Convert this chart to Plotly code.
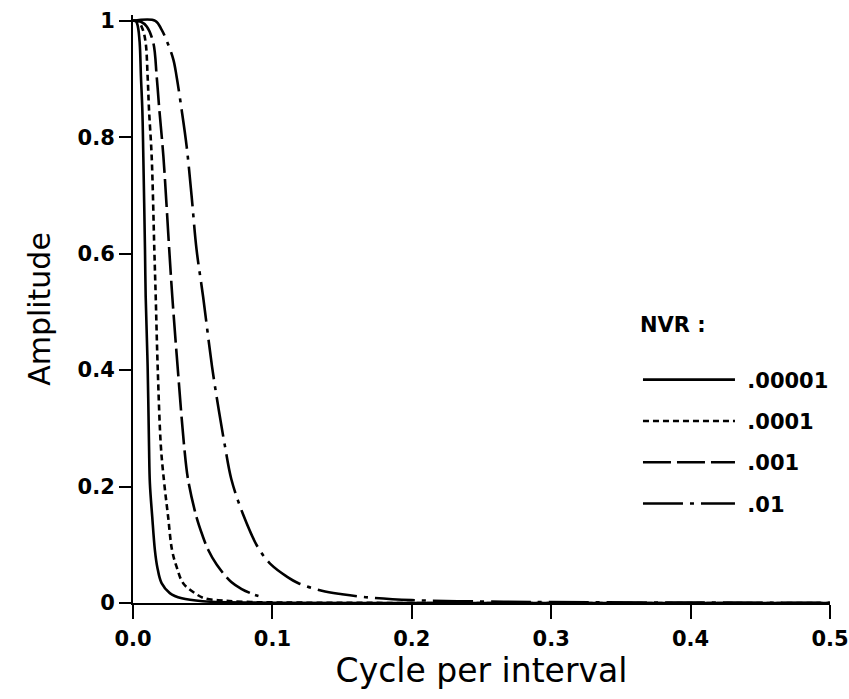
import plotly.graph_objects as go

# Frequency (cycles per interval) and amplitude
f_00001 = [0, 0.002, 0.0035, 0.0048, 0.0057, 0.0067, 0.0074, 0.0086, 0.0091, 0.0105, 0.0115,
           0.0121, 0.0138, 0.0157, 0.0174, 0.0205, 0.0264, 0.035, 0.05, 0.1, 0.2, 0.3, 0.4, 0.5]
a_00001 = [1, 1, 0.99, 0.962, 0.904, 0.847, 0.767, 0.607, 0.526, 0.406, 0.269,
           0.206, 0.148, 0.091, 0.062, 0.034, 0.017, 0.008, 0.003, 0.0005, 0, 0, 0, 0]

f_0001 = [0, 0.004, 0.007, 0.0091, 0.0105, 0.0115, 0.0134, 0.0153, 0.0163, 0.0177, 0.02,
          0.0224, 0.0252, 0.028, 0.0313, 0.036, 0.0443, 0.0514, 0.065, 0.08, 0.1, 0.2, 0.3, 0.4, 0.5]
a_0001 = [1, 0.998, 0.985, 0.962, 0.904, 0.847, 0.767, 0.607, 0.526, 0.406, 0.269,
          0.206, 0.148, 0.091, 0.062, 0.034, 0.017, 0.008, 0.004, 0.002, 0.001, 0, 0, 0, 0]

f_001 = [0, 0.006, 0.01, 0.0146, 0.017, 0.0189, 0.0218, 0.026, 0.0282, 0.032, 0.0367,
         0.0395, 0.0455, 0.05, 0.054, 0.06, 0.0705, 0.078, 0.0862, 0.09]
a_001 = [1, 0.998, 0.99, 0.962, 0.904, 0.847, 0.767, 0.607, 0.526, 0.406, 0.269,
         0.212, 0.148, 0.115, 0.091, 0.066, 0.036, 0.024, 0.015, 0.012]

f_01 = [0, 0.016, 0.0205, 0.0248, 0.029, 0.0313, 0.0349, 0.0385, 0.042, 0.0456, 0.0503, 0.0567,
        0.0613, 0.066, 0.0705, 0.079, 0.09, 0.0995, 0.11, 0.1187, 0.1355, 0.15, 0.167, 0.2,
        0.25, 0.3, 0.4, 0.5]
a_01 = [1, 1, 0.985, 0.962, 0.933, 0.904, 0.847, 0.784, 0.70, 0.607, 0.526, 0.406,
        0.335, 0.269, 0.213, 0.152, 0.094, 0.065, 0.046, 0.034, 0.021, 0.015, 0.010, 0.005,
        0.0025, 0.0015, 0.0007, 0.0005]

series_names = [".00001", ".0001", ".001", ".01"]
x_tick_vals = [0, 0.1, 0.2, 0.3, 0.4, 0.5]
x_tick_text = ["0.0", "0.1", "0.2", "0.3", "0.4", "0.5"]
y_tick_vals = [0, 0.2, 0.4, 0.6, 0.8, 1]
y_tick_text = ["0", "0.2", "0.4", "0.6", "0.8", "1"]

data = [(f_00001, a_00001), (f_0001, a_0001), (f_001, a_001), (f_01, a_01)]
dashes = ["solid", "6px,4px", "28px,6px", "40px,7px,4px,7px"]

fig = go.Figure()
for (xs, ys), name, dash in zip(data, series_names, dashes):
    fig.add_trace(go.Scatter(
        x=xs, y=ys, mode="lines", name="\u00a0" + name, legendgroup=name,
        line=dict(color="black", width=2.6, dash=dash, shape="spline", smoothing=1.0),
    ))

font_main = "DejaVu Sans"
fig.update_layout(
    width=849, height=699,
    paper_bgcolor="white", plot_bgcolor="white",
    margin=dict(l=133, r=19, t=15, b=96, autoexpand=False),
    showlegend=True,
    legend=dict(
        x=0.7245, y=0.507, xanchor="left", yanchor="top",
        title=dict(text="NVR :<br> ", font=dict(family=font_main, size=21, color="black", weight="bold")),
        font=dict(family=font_main, size=21, color="black", weight="bold"),
        itemwidth=92, tracegroupgap=11, bgcolor="rgba(0,0,0,0)",
    ),
    xaxis=dict(
        range=[0, 0.5], tickvals=x_tick_vals, ticktext=x_tick_text, automargin=False,
        showgrid=False, zeroline=False, showline=True, linecolor="black", linewidth=2,
        ticks="outside", ticklen=14, tickwidth=2, tickcolor="black", ticklabelstandoff=2,
        ticklabeloverflow="allow",
        tickfont=dict(family=font_main, size=21, color="black", weight="bold"),
        title=dict(text="Cycle per interval", standoff=0,
                   font=dict(family=font_main, size=33, color="black")),
    ),
    yaxis=dict(
        range=[0, 1.01], tickvals=y_tick_vals, ticktext=y_tick_text, automargin=False,
        showgrid=False, zeroline=False, showline=True, linecolor="black", linewidth=2,
        ticks="outside", ticklen=12, tickwidth=2, tickcolor="black",
        tickfont=dict(family=font_main, size=21, color="black", weight="bold"),
        title=dict(text="Amplitude", standoff=18,
                   font=dict(family=font_main, size=30, color="black")),
    ),
)

# remove the default 8px page margin so the 849x699 figure fills the window exactly
fig.write_html("out.html", config={"displayModeBar": False},
               post_script="document.body.style.margin='0px';")
